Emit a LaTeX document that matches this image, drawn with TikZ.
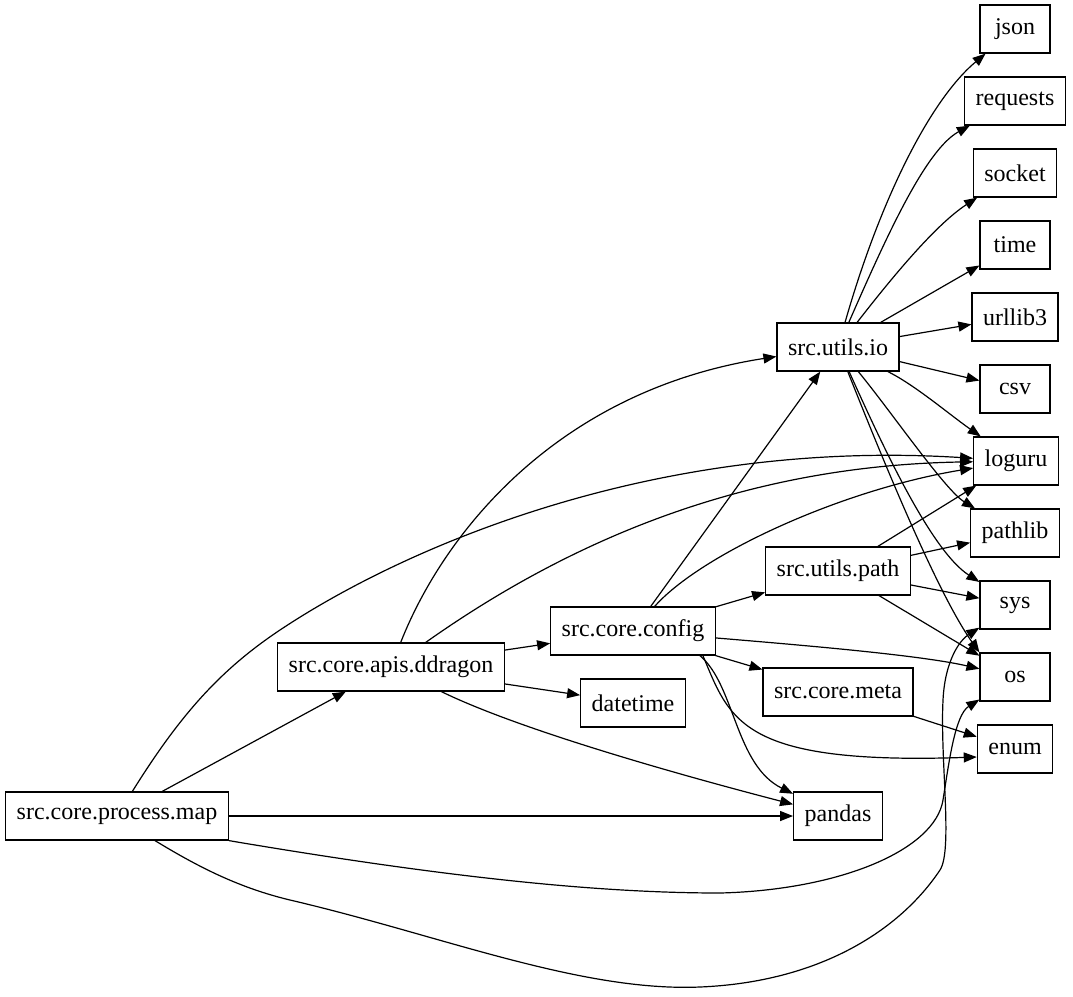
\documentclass[tikz,border=0pt]{standalone}
\usepackage{fontspec}
\setmainfont{Liberation Serif}
\usetikzlibrary{arrows.meta}
\tikzset{
  modBox/.style={draw,line width=0.9pt,font=\fontsize{18}{22}\selectfont,
    inner xsep=8.25pt,minimum width=52.5pt,minimum height=36pt},
  depArrow/.style={line width=0.9pt,-{Triangle[length=9.75pt,width=7.5pt]}}
}
\begin{document}
\begin{tikzpicture}[x=0.75pt,y=-0.75pt]
\useasboundingbox (0,0) rectangle (1073,996);
% right column
\node[modBox] (json) at (1015,29) {json};
\node[modBox] (requests) at (1015,101) {requests};
\node[modBox] (socket) at (1015,173) {socket};
\node[modBox] (time) at (1015,245) {time};
\node[modBox] (urllib) at (1015,317) {urllib3};
\node[modBox] (csv) at (1015,389) {csv};
\node[modBox] (loguru) at (1016,461) {loguru};
\node[modBox] (pathlib) at (1015,533) {pathlib};
\node[modBox] (sys) at (1015,605) {sys};
\node[modBox] (os) at (1015,677) {os};
\node[modBox] (enum) at (1015,749) {enum};
% middle
\node[modBox] (utilsIo) at (838,347) {src.utils.io};
\node[modBox] (utilsPath) at (838,571) {src.utils.path};
\node[modBox] (coreMeta) at (838,692) {src.core.meta};
\node[modBox] (pandas) at (838,816) {pandas};
\node[modBox] (coreConfig) at (633,631) {src.core.config};
\node[modBox] (datetime) at (633,703) {datetime};
\node[modBox] (ddragon) at (391,667) {src.core.apis.ddragon};
\node[modBox] (processMap) at (117,816) {src.core.process.map};

% src.utils.io
\draw[depArrow] (utilsIo) .. controls (880,200) and (930,100) .. (json);
\draw[depArrow] (utilsIo) .. controls (885,240) and (925,150) .. (requests);
\draw[depArrow] (utilsIo) .. controls (890,280) and (935,225) .. (socket);
\draw[depArrow] (utilsIo) -- (time);
\draw[depArrow] (utilsIo) -- (urllib);
\draw[depArrow] (utilsIo) -- (csv);
\draw[depArrow] (utilsIo) .. controls (915,385) and (950,415) .. (loguru);
\draw[depArrow] (utilsIo) .. controls (890,410) and (945,490) .. (pathlib);
\draw[depArrow] (utilsIo) .. controls (880,440) and (930,550) .. (sys);
\draw[depArrow] (utilsIo) .. controls (875,440) and (935,590) .. (os.north west);
% src.utils.path
\draw[depArrow] (utilsPath) -- (loguru);
\draw[depArrow] (utilsPath) -- (pathlib);
\draw[depArrow] (utilsPath) -- (sys);
\draw[depArrow] (utilsPath) -- (os);
\draw[depArrow] (coreMeta) -- (enum);
% src.core.config
\draw[depArrow] (coreConfig) -- (utilsIo);
\draw[depArrow] (coreConfig) .. controls (700,555) and (840,490) .. (loguru);
\draw[depArrow] (coreConfig) -- (utilsPath);
\draw[depArrow] (coreConfig) .. controls (800,645) and (920,655) .. (os);
\draw[depArrow] (coreConfig) -- (coreMeta);
\draw[depArrow] ([xshift=-12pt]coreConfig.south east) .. controls (735,685) and (735,765) .. (pandas);
\draw[depArrow] ([xshift=-9.75pt]coreConfig.south east) .. controls (730,720) and (740,765) .. ([yshift=-6pt]enum.west);
% src.core.apis.ddragon
\draw[depArrow] (ddragon) .. controls (445,530) and (560,390) .. (utilsIo);
\draw[depArrow] (ddragon) .. controls (610,512) and (790,465) .. (loguru);
\draw[depArrow] (ddragon) -- (coreConfig);
\draw[depArrow] (ddragon) -- (datetime);
\draw[depArrow] (ddragon) .. controls (520,730) and (680,775) .. (pandas);
% src.core.process.map
\draw[depArrow] (processMap) .. controls (180,715) and (220,670) .. (280,630)
  .. controls (400,550) and (650,438) .. (loguru);
\draw[depArrow] (processMap) -- (ddragon);
\draw[depArrow] (processMap) -- (pandas);
\draw[depArrow] (processMap.south east) .. controls (450,878) and (600,893) .. (720,893)
  .. controls (840,890) and (935,850) .. (943,800)
  .. controls (949,762) and (955,715) .. (os);
\draw[depArrow] ([xshift=28.5pt]processMap.south) .. controls (200,868) and (240,888) .. (290,900)
  .. controls (440,935) and (580,992) .. (700,987)
  .. controls (820,982) and (900,930) .. (940,870)
  .. controls (953,850) and (940,760) .. (943,700)
  .. controls (945,660) and (960,640) .. (sys);
\end{tikzpicture}
\end{document}
